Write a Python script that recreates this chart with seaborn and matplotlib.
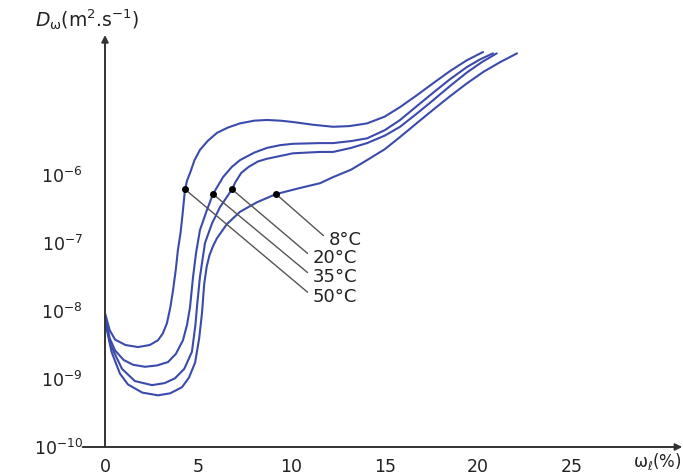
import numpy as np
import pandas as pd
import matplotlib
matplotlib.use("Agg")
import matplotlib.pyplot as plt
import seaborn as sns

# water content (%) and log10 of diffusivity
w_50 = [0, 0.25, 0.54, 1.1, 1.77, 2.4, 2.84, 3.1, 3.32, 3.5, 3.65, 3.8, 3.91, 4.05, 4.15, 4.29, 4.4, 4.56, 4.8, 5.09, 5.5, 6.0, 6.6, 7.24, 8.0, 8.69, 9.4, 10.08, 11.15, 12.23, 13.1, 14.05, 15.0, 15.82, 16.7, 17.59, 18.5, 19.41, 20.27]
e_50 = [-8.03, -8.28, -8.42, -8.5, -8.53, -8.5, -8.43, -8.33, -8.18, -7.95, -7.69, -7.38, -7.10, -6.85, -6.6, -6.21, -6.08, -5.97, -5.78, -5.63, -5.5, -5.38, -5.3, -5.24, -5.2, -5.19, -5.2, -5.22, -5.26, -5.29, -5.28, -5.24, -5.14, -5.0, -4.83, -4.65, -4.47, -4.31, -4.19]

w_35 = [0, 0.25, 0.54, 1.0, 1.5, 2.14, 2.8, 3.38, 3.8, 4.18, 4.4, 4.56, 4.72, 4.88, 5.09, 5.47, 5.79, 6.33, 6.8, 7.24, 8.0, 8.69, 9.4, 10.08, 11.53, 12.23, 13.2, 14.05, 15.0, 15.82, 16.7, 17.59, 18.5, 19.41, 20.1, 20.8]
e_35 = [-8.06, -8.4, -8.58, -8.72, -8.79, -8.82, -8.8, -8.75, -8.63, -8.43, -8.2, -7.94, -7.50, -7.15, -6.81, -6.51, -6.28, -6.03, -5.88, -5.78, -5.67, -5.60, -5.56, -5.54, -5.53, -5.53, -5.5, -5.46, -5.34, -5.19, -4.99, -4.79, -4.59, -4.41, -4.3, -4.21]

w_20 = [0, 0.3, 0.91, 1.6, 2.52, 3.2, 3.75, 4.25, 4.66, 4.85, 4.93, 5.09, 5.36, 5.74, 6.17, 6.81, 7.0, 7.3, 7.7, 8.2, 8.69, 10.08, 11.53, 12.23, 13.2, 14.05, 15.0, 15.82, 16.7, 17.59, 18.5, 19.41, 20.2, 21.0]
e_20 = [-8.1, -8.5, -8.85, -9.03, -9.09, -9.06, -8.99, -8.85, -8.6, -8.2, -7.94, -7.50, -7.0, -6.71, -6.47, -6.21, -6.1, -5.97, -5.88, -5.8, -5.76, -5.68, -5.66, -5.66, -5.6, -5.53, -5.42, -5.29, -5.1, -4.90, -4.69, -4.49, -4.34, -4.21]

w_8 = [0, 0.35, 0.8, 1.23, 2.0, 2.84, 3.5, 4.13, 4.5, 4.83, 5.05, 5.20, 5.32, 5.45, 5.6, 5.8, 6.0, 6.54, 7.24, 8.15, 9.17, 10.46, 11.53, 12.23, 13.2, 14.05, 15.0, 15.82, 16.7, 17.59, 18.5, 19.41, 20.3, 21.18, 22.09]
e_8 = [-8.15, -8.6, -8.92, -9.08, -9.2, -9.24, -9.21, -9.12, -8.98, -8.76, -8.4, -8.03, -7.6, -7.35, -7.18, -7.04, -6.93, -6.72, -6.54, -6.40, -6.28, -6.19, -6.12, -6.03, -5.92, -5.78, -5.62, -5.44, -5.24, -5.04, -4.84, -4.65, -4.48, -4.34, -4.21]

# labelled points on each curve
temps = ["50°C", "35°C", "20°C", "8°C"]
dot_w = [4.29, 5.79, 6.81, 9.17]
dot_e = [-6.21, -6.28, -6.21, -6.28]
label_w = [11.15, 11.15, 11.15, 12.0]
label_e = [-7.79, -7.50, -7.22, -6.96]

x_ticks = [0, 5, 10, 15, 20, 25]
y_ticks = [-10, -9, -8, -7, -6]

sns.set_style("white")
plt.rcParams["font.family"] = ["DejaVu Sans"]
plt.rcParams["mathtext.default"] = "regular"

fig = plt.figure(figsize=(6.83, 4.75), dpi=100)
ax = fig.add_axes([105 / 683, 28 / 475, 570 / 683, 412 / 475])

curve_color = "#3b4bab"
for w, e in [(w_50, e_50), (w_35, e_35), (w_20, e_20), (w_8, e_8)]:
    sns.lineplot(x=w, y=10.0 ** np.array(e), ax=ax, color=curve_color,
                 lw=1.5, estimator=None, sort=False)

ax.set_yscale("log")
ax.set_xlim(0, 30.56)
ax.set_ylim(1e-10, 10 ** -3.94)

# leader lines and temperature labels
for t, dw, de, lw_, le in zip(temps, dot_w, dot_e, label_w, label_e):
    ax.plot(dw, 10 ** de, "o", color="black", ms=4, zorder=5)
    ax.annotate(t, xy=(dw, 10 ** de), xytext=(lw_, 10 ** le),
                ha="left", va="center", fontsize=13, color="#222222",
                arrowprops=dict(arrowstyle="-", color="#555555", lw=1,
                                relpos=(0, 0.5), shrinkA=2, shrinkB=0))

# axes drawn as arrows
for s in ax.spines.values():
    s.set_visible(False)
ax.annotate("", xy=(30.95, 1e-10), xytext=(-1.2, 1e-10), annotation_clip=False,
            arrowprops=dict(arrowstyle="-|>", color="#333333", lw=1.4, shrinkA=0, shrinkB=0))
ax.annotate("", xy=(0, 10 ** -3.94), xytext=(0, 1e-10), annotation_clip=False,
            arrowprops=dict(arrowstyle="-|>", color="#333333", lw=1.4, shrinkA=0, shrinkB=0))

ax.set_xticks(x_ticks)
ax.set_xticklabels([str(v) for v in x_ticks])
ax.set_yticks([10.0 ** v for v in y_ticks])
ax.set_yticklabels([f"$10^{{{v}}}$" for v in y_ticks])
ax.yaxis.set_minor_locator(matplotlib.ticker.NullLocator())
ax.tick_params(axis="x", direction="out", length=4, width=1.2, pad=4,
               labelsize=12.5, colors="#333333", labelcolor="#222222")
ax.tick_params(axis="y", direction="out", length=11, width=1.2, pad=5,
               labelsize=12.5, colors="#333333", labelcolor="#222222")
ax.set_xlabel("")
ax.set_ylabel("")

fig.text(35 / 683, 1 - 20 / 475, r"$\mathit{D}_\omega$(m$^2$.s$^{-1}$)", fontsize=13.5,
         ha="left", va="center", color="#222222")
fig.text(0.998, 1 - 462 / 475, r"$\omega_\ell$(%)", fontsize=12,
         ha="right", va="center", color="#222222")

fig.savefig("out.png", dpi=100)
